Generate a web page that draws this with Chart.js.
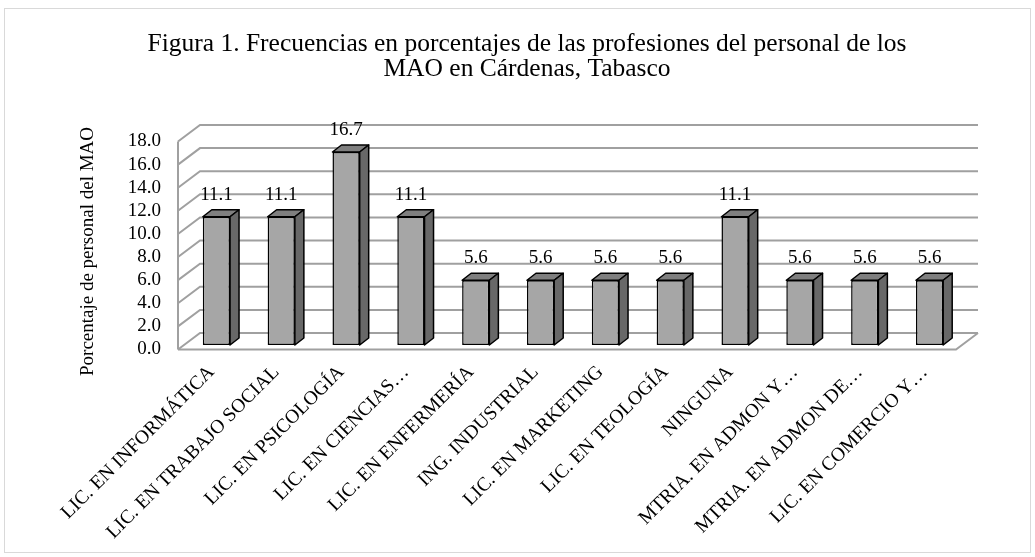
<!DOCTYPE html>
<html>
<head>
<meta charset="utf-8">
<script src="https://cdn.jsdelivr.net/npm/chart.js@4.4.0/dist/chart.umd.min.js"></script>
<style>
  html, body { margin: 0; padding: 0; background: #fff; }
</style>
</head>
<body>
<canvas id="myChart" width="1035" height="557"></canvas>
<script>
// Data
const profesiones = [
    'LIC. EN INFORMÁTICA',
    'LIC. EN TRABAJO SOCIAL',
    'LIC. EN PSICOLOGÍA',
    'LIC. EN CIENCIAS…',
    'LIC. EN ENFERMERÍA',
    'ING. INDUSTRIAL',
    'LIC. EN MARKETING',
    'LIC. EN TEOLOGÍA',
    'NINGUNA',
    'MTRIA. EN ADMON Y…',
    'MTRIA. EN ADMON DE…',
    'LIC. EN COMERCIO Y…'
];
const porcentajes = [11.1, 11.1, 16.7, 11.1, 5.6, 5.6, 5.6, 5.6, 11.1, 5.6, 5.6, 5.6];
const tituloGrafica = [
    'Figura 1. Frecuencias en porcentajes de las profesiones del personal de los',
    'MAO en Cárdenas, Tabasco'
];
const tituloEjeY = 'Porcentaje de personal del MAO';

const fuente = "'Liberation Serif', 'Times New Roman', serif";

// offsets for the fake 3D look
const frente = { dx: -6, dy: 4.5 };   // floor front edge relative to bar plane
const fondo = { dx: 16, dy: -12 };    // back wall relative to bar plane
const prof = { dx: 9, dy: -7 };       // depth of each bar

const plugin3D = {
    id: 'plugin3D',
    beforeDraw(chart) {
        const ctx = chart.ctx;
        ctx.save();
        ctx.strokeStyle = '#d9d9d9';
        ctx.lineWidth = 1;
        ctx.strokeRect(4.5, 8.5, 1026, 544);
        ctx.restore();
    },
    beforeDatasetsDraw(chart) {
        const { ctx, chartArea, scales } = chart;
        const y = scales.y;
        ctx.save();
        ctx.strokeStyle = '#a0a0a0';
        ctx.lineWidth = 2;
        // side wall + back wall grid lines
        y.ticks.forEach(t => {
            const py = y.getPixelForValue(t.value);
            ctx.beginPath();
            ctx.moveTo(chartArea.left + frente.dx, py + frente.dy);
            ctx.lineTo(chartArea.left + fondo.dx, py + fondo.dy);
            ctx.lineTo(chartArea.right + fondo.dx, py + fondo.dy);
            ctx.stroke();
        });
        const y0 = y.getPixelForValue(0);
        const yMax = y.getPixelForValue(y.max);
        // front edge of side wall
        ctx.beginPath();
        ctx.moveTo(chartArea.left + frente.dx, y0 + frente.dy);
        ctx.lineTo(chartArea.left + frente.dx, yMax + frente.dy);
        ctx.stroke();
        // floor front and right edges
        ctx.beginPath();
        ctx.moveTo(chartArea.left + frente.dx, y0 + frente.dy);
        ctx.lineTo(chartArea.right + frente.dx, y0 + frente.dy);
        ctx.lineTo(chartArea.right + fondo.dx, y0 + fondo.dy);
        ctx.stroke();
        ctx.restore();
    },
    afterDatasetsDraw(chart) {
        const ctx = chart.ctx;
        const meta = chart.getDatasetMeta(0);
        ctx.save();
        ctx.lineWidth = 1.5;
        ctx.strokeStyle = '#000';
        ctx.lineJoin = 'round';
        meta.data.forEach((bar, i) => {
            const { x, y, base, width } = bar.getProps(['x', 'y', 'base', 'width'], true);
            const L = x - width / 2;
            const R = x + width / 2;
            // top face
            ctx.beginPath();
            ctx.moveTo(L, y);
            ctx.lineTo(L + prof.dx, y + prof.dy);
            ctx.lineTo(R + prof.dx, y + prof.dy);
            ctx.lineTo(R, y);
            ctx.closePath();
            ctx.fillStyle = '#7f7f7f';
            ctx.fill();
            ctx.stroke();
            // right side face
            ctx.beginPath();
            ctx.moveTo(R, y);
            ctx.lineTo(R + prof.dx, y + prof.dy);
            ctx.lineTo(R + prof.dx, base + prof.dy);
            ctx.lineTo(R, base);
            ctx.closePath();
            ctx.fillStyle = '#686868';
            ctx.fill();
            ctx.stroke();
            // value label
            ctx.fillStyle = '#000';
            ctx.font = '19px ' + fuente;
            ctx.textAlign = 'center';
            ctx.textBaseline = 'alphabetic';
            ctx.fillText(porcentajes[i].toFixed(1), x, y - 17);
        });
        ctx.restore();
    },
    afterDraw(chart) {
        const ctx = chart.ctx;
        ctx.save();
        ctx.translate(88, 251.5);
        ctx.rotate(-Math.PI / 2);
        ctx.fillStyle = '#000';
        ctx.font = '19px ' + fuente;
        ctx.textAlign = 'center';
        ctx.textBaseline = 'middle';
        ctx.fillText(tituloEjeY, 0, 0);
        ctx.restore();
    }
};

const ctx = document.getElementById('myChart').getContext('2d');
const chart = new Chart(ctx, {
    type: 'bar',
    data: {
        labels: profesiones,
        datasets: [{
            data: porcentajes,
            backgroundColor: '#a6a6a6',
            borderColor: '#000',
            borderWidth: 1.5,
            borderSkipped: false,
            barPercentage: 0.42,
            categoryPercentage: 1
        }]
    },
    options: {
        responsive: false,
        animation: false,
        layout: {
            padding: { left: 92, right: 73, top: 32, bottom: 0 }
        },
        plugins: {
            legend: { display: false },
            tooltip: { enabled: false },
            title: {
                display: true,
                text: tituloGrafica,
                color: '#000',
                font: { family: fuente, size: 25.5, weight: 'normal', lineHeight: 0.98 },
                padding: { top: 0, bottom: 55 }
            }
        },
        scales: {
            x: {
                grid: { display: false, drawTicks: false },
                border: { display: false },
                ticks: {
                    autoSkip: false,
                    maxRotation: 45,
                    minRotation: 45,
                    padding: 16,
                    labelOffset: -5,
                    color: '#000',
                    font: { family: fuente, size: 19.5 }
                },
                afterFit(scale) { scale.height = 212; }
            },
            y: {
                min: 0,
                max: 18,
                grid: { display: false, drawTicks: false },
                border: { display: false },
                ticks: {
                    autoSkip: false,
                    stepSize: 2,
                    padding: 23,
                    labelOffset: 4.5,
                    color: '#000',
                    font: { family: fuente, size: 19 },
                    callback: v => v.toFixed(1)
                },
                afterFit(scale) { scale.width = 92; }
            }
        }
    },
    plugins: [plugin3D]
});
</script>
</body>
</html>
